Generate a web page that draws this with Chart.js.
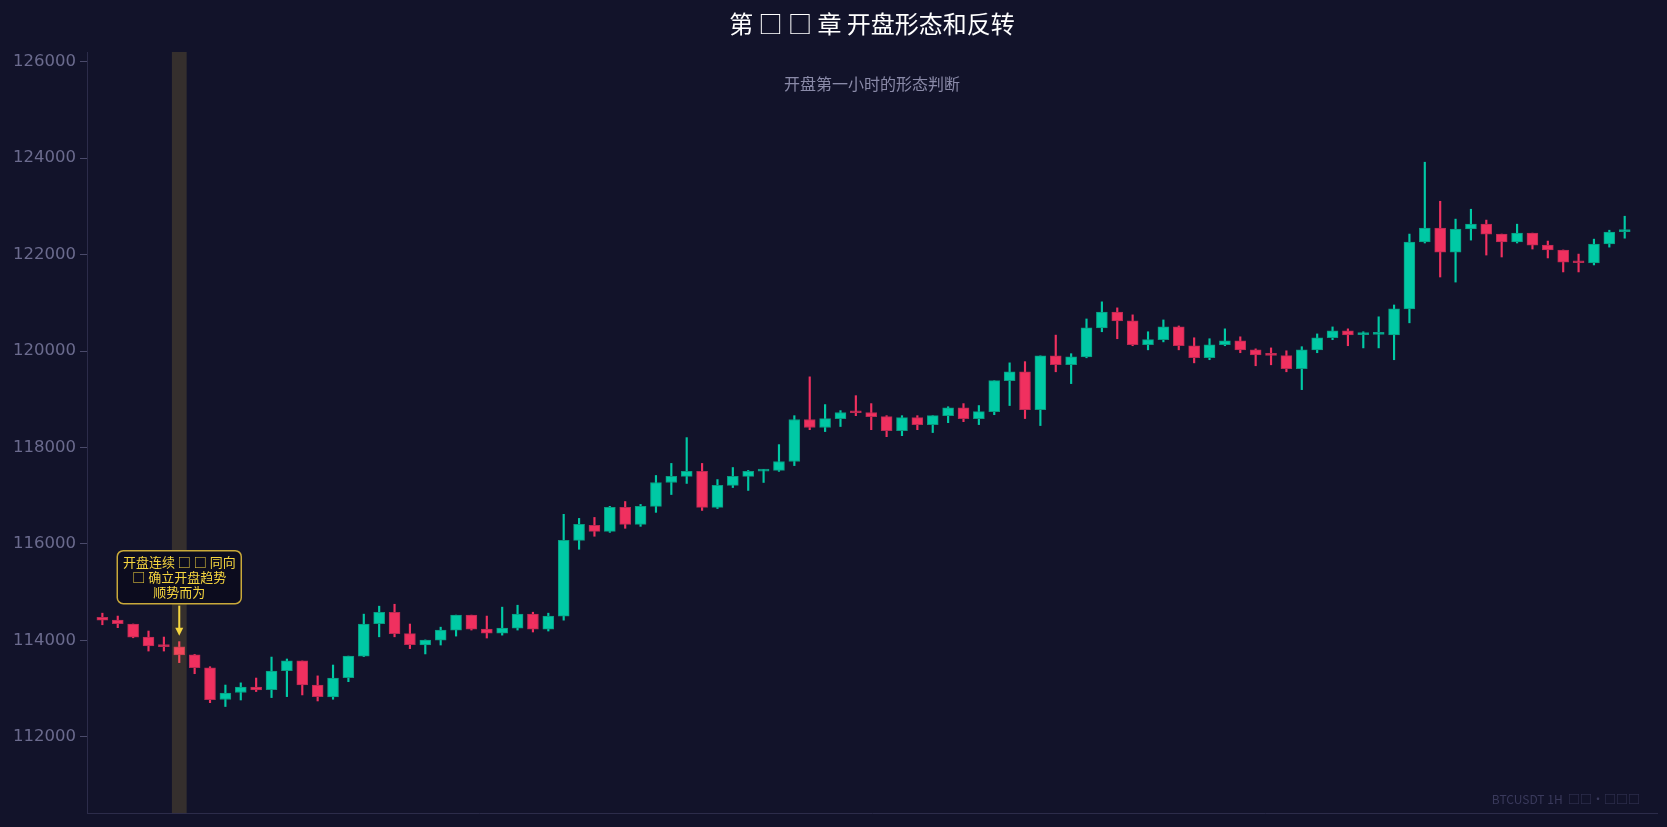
<!DOCTYPE html>
<html>
<head>
<meta charset="utf-8">
<script src="https://cdn.jsdelivr.net/npm/chart.js@4.4.1/dist/chart.umd.min.js"></script>
<style>
  html, body { margin: 0; padding: 0; background: #12132a; }
  #wrap { width: 1667px; height: 827px; position: relative; }
</style>
</head>
<body>
<div id="wrap"><canvas id="kline"></canvas></div>
<script>
// BTCUSDT 1H candles
var opens  = [114480,114420,114340,114070,113885,113865,113700,113430,112775,112920,
              113035,112980,113375,113575,113075,112830,113230,113675,114345,114585,
              114140,113905,114005,114215,114525,114235,114150,114255,114545,114235,
              114505,116075,116385,116260,116760,116405,116780,117275,117400,117505,
              116760,117215,117400,117510,117525,117710,118580,118415,118600,118730,
              118725,118640,118350,118620,118475,118660,118825,118600,118745,119385,
              119570,118785,119900,119715,119880,120480,120810,120625,120130,120235,
              120500,120110,119860,120130,120210,120025,119920,119905,119635,120025,
              120275,120420,120340,120345,120335,120875,122260,122550,122050,122530,
              122630,122425,122260,122445,122195,122095,121845,121825,122220,122475];
var highs  = [114565,114505,114340,114195,114070,113975,113710,113455,113075,113120,
              113220,113655,113615,113575,113265,113490,113675,114545,114710,114750,
              114340,114010,114275,114525,114525,114505,114690,114730,114585,114565,
              116615,116530,116550,116780,116880,116820,117420,117670,118205,117670,
              117335,117585,117525,117545,118060,118660,119465,118890,118765,119075,
              118910,118660,118660,118660,118660,118845,118910,118870,119385,119755,
              119780,119900,120330,119945,120665,121020,120895,120750,120400,120645,
              120520,120275,120255,120460,120295,120045,120065,120005,120090,120355,
              120500,120460,120400,120710,120955,122425,123915,123105,122735,122940,
              122715,122425,122630,122445,122280,122095,122010,122320,122505,122795];
var lows   = [114325,114265,114055,113780,113780,113540,113310,112710,112630,112765,
              112940,112815,112835,112870,112745,112780,113145,113665,114075,114075,
              113830,113720,113905,114090,114215,114050,114110,114215,114175,114195,
              114420,115890,116160,116240,116325,116365,116655,117025,117255,116695,
              116735,117170,117110,117275,117505,117625,118370,118330,118435,118660,
              118370,118225,118245,118370,118310,118515,118535,118475,118680,118870,
              118600,118455,119570,119325,119860,120400,120255,120110,120025,120190,
              120025,119755,119820,120110,119965,119695,119715,119570,119200,119965,
              120235,120110,120065,120065,119820,120585,122240,121535,121430,122300,
              121990,121950,122240,122115,121930,121640,121640,121785,122155,122340];
var closes = [114420,114345,114070,113885,113870,113700,113435,112770,112910,113035,
              112975,113365,113575,113075,112835,113220,113675,114340,114585,114140,
              113910,114005,114215,114525,114235,114150,114255,114545,114235,114505,
              116075,116405,116260,116760,116405,116780,117275,117400,117505,116760,
              117215,117400,117505,117525,117710,118580,118415,118600,118725,118720,
              118640,118350,118620,118475,118660,118825,118600,118745,119385,119570,
              118785,119900,119715,119880,120480,120810,120625,120130,120235,120500,
              120110,119860,120130,120210,120025,119920,119910,119635,120025,120275,
              120420,120335,120345,120355,120875,122260,122550,122050,122530,122630,
              122425,122260,122445,122195,122095,121845,121830,122220,122465,122500];

var yTickValues = [112000,114000,116000,118000,120000,122000,124000,126000];
var highlightIndex = 5;

var titleText = "第 □ □ 章 开盘形态和反转";
var subtitleText = "开盘第一小时的形态判断";
var noteLines = ["开盘连续 □ □ 同向", "□ 确立开盘趋势", "顺势而为"];
var watermarkText = "BTCUSDT 1H  □□·□□□";

var UP = "#00c9a5", DOWN = "#f0305f";
var UP_EDGE = "#0a9a80", DOWN_EDGE = "#b82a52";

var bodyData = [], wickData = [], colors = [], edges = [];
for (var i = 0; i < opens.length; i++) {
    bodyData.push({ x: i, y: [opens[i], closes[i]] });
    wickData.push({ x: i, y: [lows[i], highs[i]] });
    var up = closes[i] >= opens[i];
    colors.push(up ? UP : DOWN);
    edges.push(up ? UP_EDGE : DOWN_EDGE);
}

var CJK = '"Noto Sans CJK SC", "DejaVu Sans", sans-serif';

var overlay = {
    id: 'overlay',
    afterDatasetsDraw: function (chart) {
        var ctx = chart.ctx, area = chart.chartArea;
        var xs = chart.scales.x, ys = chart.scales.y;
        ctx.save();
        // highlighted hour
        var bx0 = xs.getPixelForValue(highlightIndex - 0.48);
        var bx1 = xs.getPixelForValue(highlightIndex + 0.48);
        ctx.fillStyle = 'rgba(255,210,70,0.15)';
        ctx.fillRect(bx0, area.top, bx1 - bx0, area.bottom - area.top);

        // note box + arrow
        var cx = xs.getPixelForValue(highlightIndex);
        var tipY = ys.getPixelForValue(highs[highlightIndex]) - 6;
        var boxBottom = tipY - 32, boxH = 53, boxW = 124;
        var boxTop = boxBottom - boxH;
        ctx.beginPath();
        ctx.roundRect(cx - boxW / 2, boxTop, boxW, boxH, 6);
        ctx.fillStyle = '#0c0c1e';
        ctx.fill();
        ctx.lineWidth = 1.5;
        ctx.strokeStyle = '#c9a93a';
        ctx.stroke();

        ctx.fillStyle = '#f5d53f';
        ctx.font = '13px ' + CJK;
        ctx.textAlign = 'center';
        ctx.textBaseline = 'middle';
        for (var k = 0; k < noteLines.length; k++) {
            ctx.fillText(noteLines[k], cx, boxTop + 11 + k * 15);
        }

        ctx.strokeStyle = '#f5d53f';
        ctx.lineWidth = 2;
        ctx.beginPath();
        ctx.moveTo(cx, boxBottom + 2);
        ctx.lineTo(cx, tipY - 4);
        ctx.stroke();
        ctx.beginPath();
        ctx.moveTo(cx - 4, tipY - 8);
        ctx.lineTo(cx + 4, tipY - 8);
        ctx.lineTo(cx, tipY);
        ctx.closePath();
        ctx.fillStyle = '#f5d53f';
        ctx.fill();
        ctx.restore();
    },
    afterDraw: function (chart) {
        var ctx = chart.ctx, area = chart.chartArea;
        var mid = (area.left + area.right) / 2;
        ctx.save();
        ctx.textAlign = 'center';
        ctx.textBaseline = 'middle';
        ctx.fillStyle = '#ffffff';
        ctx.font = '24px ' + CJK;
        ctx.fillText(titleText, mid, 24);
        ctx.fillStyle = '#8a8aa8';
        ctx.font = '16px ' + CJK;
        ctx.fillText(subtitleText, mid, 84);
        ctx.fillStyle = '#3a3a5c';
        ctx.font = '12px ' + CJK;
        ctx.textAlign = 'right';
        ctx.fillText(watermarkText, area.right - 17, area.bottom - 14);
        ctx.restore();
    }
};

new Chart(document.getElementById('kline'), {
    type: 'bar',
    data: {
        datasets: [
            {
                label: 'body',
                data: bodyData,
                backgroundColor: colors,
                borderColor: edges,
                borderWidth: 1,
                borderSkipped: false,
                barThickness: 11,
                minBarLength: 2,
                grouped: false
            },
            {
                label: 'wick',
                data: wickData,
                backgroundColor: colors,
                borderWidth: 0,
                barThickness: 1.5,
                grouped: false
            }
        ]
    },
    options: {
        responsive: true,
        maintainAspectRatio: false,
        animation: false,
        layout: { padding: { top: 52, right: 10, bottom: 7, left: 0 } },
        plugins: {
            legend: { display: false },
            title: { display: false },
            tooltip: { enabled: false }
        },
        scales: {
            x: {
                type: 'linear',
                offset: false,
                min: -1,
                max: 101.1,
                ticks: { display: false },
                grid: { display: false, drawTicks: false },
                border: { display: true, color: '#2c2c4a', width: 1 },
                afterFit: function (s) { s.height = 0; }
            },
            y: {
                min: 110420,
                max: 126200,
                afterBuildTicks: function (s) {
                    s.ticks = yTickValues.map(function (v) { return { value: v }; });
                },
                ticks: {
                    color: '#6b6b8e',
                    font: { family: 'DejaVu Sans', size: 16.5 },
                    padding: 4,
                    callback: function (v) { return String(v); }
                },
                grid: { drawOnChartArea: false, drawTicks: true, tickLength: 7, color: '#4a4a6a' },
                border: { display: true, color: '#2c2c4a', width: 1 },
                afterFit: function (s) { s.width = 87; }
            }
        }
    },
    plugins: [overlay]
});
</script>
</body>
</html>
